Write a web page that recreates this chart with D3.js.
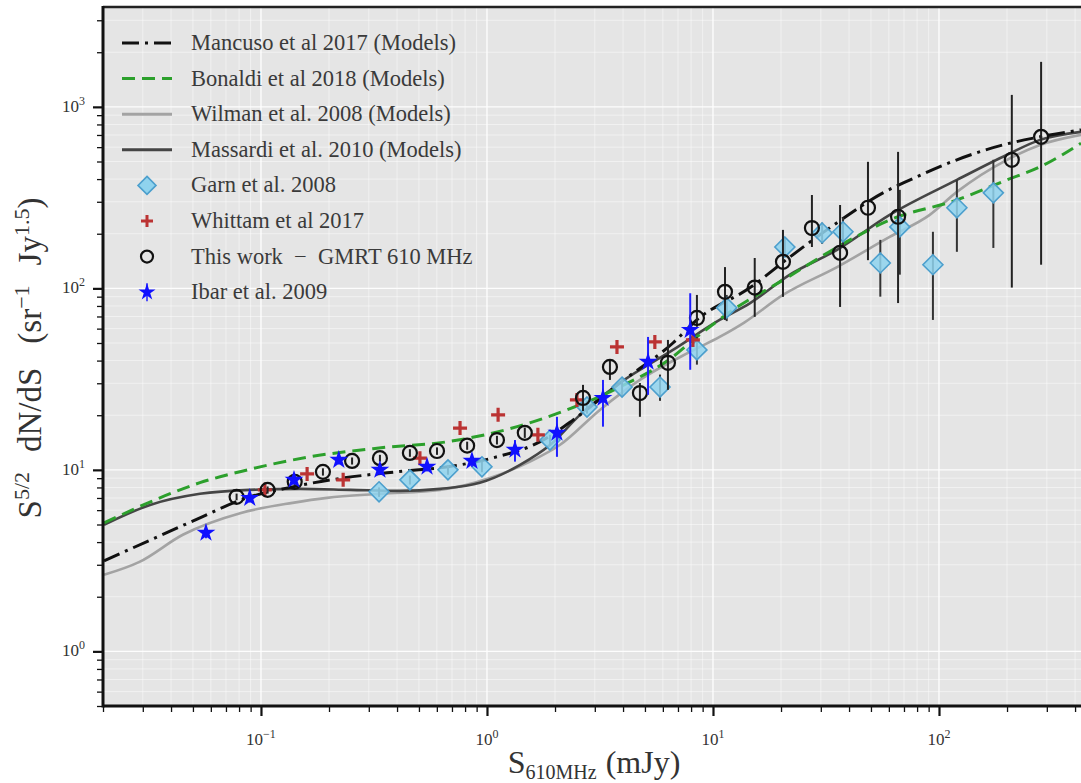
<!DOCTYPE html>
<html>
<head>
<meta charset="utf-8">
<script src="https://cdn.jsdelivr.net/npm/d3@7"></script>
<style>
  body { margin: 0; background: #fff; }
  svg { display: block; font-family: "Liberation Serif", "DejaVu Serif", serif; }
</style>
</head>
<body>
<svg id="chart" width="1081" height="783"></svg>
<script>
// ---- model curves (flux in mJy, S^5/2 dN/dS) ----
const mancusoS = [0.0202, 0.0323, 0.0537, 0.0816, 0.138, 0.233, 0.396, 0.672, 1.05, 1.72, 2.40, 3.87, 6.65, 8.48, 14.6, 21.9, 35.4, 56.5, 74.5, 120, 192, 280, 425];
const mancusoN = [3.15, 4.1, 5.44, 6.84, 8.06, 9.03, 9.75, 10.4, 11.6, 14.3, 18.8, 30.1, 50, 67, 101, 149, 230, 336, 396, 511, 617, 684, 747];

const bonaldiS = [0.0202, 0.0405, 0.0537, 0.0816, 0.1645, 0.333, 0.672, 1.36, 2.26, 3.87, 6.65, 8.48, 12.25, 20.4, 40.4, 60.5, 120, 200, 280, 425];
const bonaldiN = [5.1, 7.47, 8.5, 9.8, 11.8, 13.2, 14.3, 17.3, 21.4, 28.6, 42, 54, 76, 111, 185, 238, 307, 396, 467, 631];

const wilmanS = [0.0202, 0.029, 0.0451, 0.0816, 0.138, 0.196, 0.336, 0.62, 1.03, 1.55, 2.10, 3.16, 4.75, 7.92, 10.7, 13.8, 20.4, 35.4, 60.5, 91, 120, 200, 280, 425];
const wilmanN = [2.64, 3.11, 4.39, 5.79, 6.58, 7.01, 7.38, 7.76, 9.03, 11.1, 13.7, 21.4, 31.3, 44.7, 54, 65, 92, 131, 192, 254, 340, 511, 617, 701];

const massardiS = [0.0202, 0.0323, 0.0537, 0.0892, 0.149, 0.248, 0.412, 0.62, 0.93, 1.40, 1.90, 2.58, 3.87, 6.65, 10.7, 14.6, 21.9, 35.4, 60.5, 120, 200, 280, 425];
const massardiN = [4.98, 6.41, 7.38, 7.76, 7.86, 7.76, 7.66, 7.86, 8.48, 10.65, 13.7, 20.1, 30.1, 45.8, 67, 83, 119, 163, 254, 396, 545, 658, 728];

// ---- measured counts ----
const garnS = [0.333, 0.456, 0.672, 0.95, 1.90, 2.77, 3.96, 5.83, 8.49, 11.5, 20.8, 30.4, 37.6, 55, 67.1, 94, 120, 174];
const garnN = [7.57, 8.81, 10.0, 10.4, 14.6, 22.2, 28.6, 28.6, 45.8, 78.2, 169, 202, 205, 138, 218, 135, 278, 336];
const garnLo = [7.1, 8.3, 9.4, 9.7, 13.6, 20.4, 25.5, 24.0, 38.0, 66, 150, 176, 170, 90, 119, 67, 159, 167];
const garnHi = [8.0, 9.3, 10.6, 11.1, 15.6, 24.0, 32.0, 33.5, 54.0, 92, 190, 230, 245, 185, 349, 205, 396, 511];

const whittamS = [0.104, 0.16, 0.231, 0.505, 0.76, 1.12, 1.68, 2.50, 3.76, 5.53, 8.15];
const whittamN = [7.76, 9.5, 8.81, 11.6, 17.0, 20.1, 15.6, 24.3, 47.6, 50.7, 52];

const gmrtS = [0.078, 0.107, 0.141, 0.188, 0.253, 0.336, 0.456, 0.601, 0.817, 1.107, 1.47, 2.66, 3.50, 4.75, 6.32, 8.49, 11.3, 15.3, 20.4, 27.4, 36.5, 48.5, 65.9, 210, 283];
const gmrtN = [7.10, 7.76, 8.59, 9.75, 11.2, 11.6, 12.4, 12.7, 13.6, 14.6, 16.0, 24.9, 36.9, 26.5, 38.9, 68.7, 95.7, 101, 140, 215, 157, 278, 248, 511, 684];
const gmrtLo = [6.8, 7.4, 8.2, 9.3, 10.7, 11.1, 11.8, 12.1, 12.9, 13.8, 15.0, 21.1, 31.3, 19.6, 27.6, 61.4, 67, 69.7, 89.8, 169, 79, 143, 83, 101, 135];
const gmrtHi = [7.4, 8.1, 9.0, 10.2, 11.7, 12.1, 13.0, 13.3, 14.3, 15.4, 17.1, 29.4, 40.4, 30.1, 52, 92, 131, 147, 210, 327, 288, 498, 565, 1164, 1770];

const ibarS = [0.0571, 0.0892, 0.140, 0.221, 0.336, 0.543, 0.858, 1.33, 2.04, 3.26, 5.16, 7.93];
const ibarN = [4.5, 7.0, 8.81, 11.35, 10.0, 10.4, 11.2, 12.9, 16.0, 24.9, 39.4, 59];
const ibarLo = [4.2, 6.6, 8.3, 10.7, 9.4, 9.8, 10.4, 11.1, 11.8, 17.3, 25.9, 35.6];
const ibarHi = [4.8, 7.4, 9.3, 12.0, 10.6, 11.0, 12.0, 14.6, 19.6, 31.3, 54, 94];

// ---- axis ticks ----
const xMajor = [0.1, 1, 10, 100];
const xMajorExp = ['\u22121', '0', '1', '2'];
const yMajor = [1, 10, 100, 1000];
const yMajorExp = ['0', '1', '2', '3'];

const legendLabels = [
    'Mancuso et al 2017 (Models)',
    'Bonaldi et al 2018 (Models)',
    'Wilman et al. 2008 (Models)',
    'Massardi et al. 2010 (Models)',
    'Garn et al. 2008',
    'Whittam et al 2017',
    'This work  \u2212  GMRT 610 MHz',
    'Ibar et al. 2009'
];

const pLeft = 103, pRight = 1165, pTop = 7, pBottom = 706, svgW = 1081;
const svg = d3.select('#chart');

const x = d3.scaleLog().domain([0.02, 1000]).range([pLeft, pRight]);
const y = d3.scaleLog().domain([0.5, 3550]).range([pBottom, pTop]);

svg.append('defs').append('clipPath').attr('id', 'plot-clip')
    .append('rect').attr('x', pLeft).attr('y', pTop).attr('width', svgW - pLeft).attr('height', pBottom - pTop);

svg.append('rect')
    .attr('x', pLeft).attr('y', pTop)
    .attr('width', svgW - pLeft).attr('height', pBottom - pTop)
    .attr('fill', '#e5e5e5');

// grid
const grid = svg.append('g').attr('clip-path', 'url(#plot-clip)');
const isMajor = v => Math.abs(Math.log10(v) - Math.round(Math.log10(v))) < 1e-9;

grid.selectAll('line.gx').data(x.ticks()).enter().append('line')
    .attr('class', 'gx')
    .attr('x1', d => x(d)).attr('x2', d => x(d))
    .attr('y1', pTop).attr('y2', pBottom)
    .attr('stroke', '#fff')
    .attr('stroke-opacity', d => isMajor(d) ? 0.9 : 0.6)
    .attr('stroke-width', d => isMajor(d) ? 1.4 : 0.8);

grid.selectAll('line.gy').data(y.ticks()).enter().append('line')
    .attr('class', 'gy')
    .attr('y1', d => y(d)).attr('y2', d => y(d))
    .attr('x1', pLeft).attr('x2', svgW)
    .attr('stroke', '#fff')
    .attr('stroke-opacity', d => isMajor(d) ? 0.9 : 0.6)
    .attr('stroke-width', d => isMajor(d) ? 1.4 : 0.8);

// model lines
const plot = svg.append('g').attr('clip-path', 'url(#plot-clip)');
const line = d3.line().x(d => x(d[0])).y(d => y(d[1])).curve(d3.curveMonotoneX);

function drawModel(s, n, color, width, dash) {
    plot.append('path')
        .datum(d3.zip(s, n))
        .attr('d', line)
        .attr('fill', 'none')
        .attr('stroke', color)
        .attr('stroke-width', width)
        .attr('stroke-dasharray', dash);
}

drawModel(wilmanS, wilmanN, '#a3a3a3', 2.6, null);
drawModel(massardiS, massardiN, '#454545', 2.6, null);
drawModel(mancusoS, mancusoN, '#111', 3, '17,6,3,6');
drawModel(bonaldiS, bonaldiN, '#2ca02c', 3, '13,7');

// error bars
function drawErrors(s, lo, hi, color, width) {
    plot.append('g').selectAll('line').data(d3.range(s.length)).enter().append('line')
        .attr('x1', i => x(s[i])).attr('x2', i => x(s[i]))
        .attr('y1', i => y(lo[i])).attr('y2', i => y(hi[i]))
        .attr('stroke', color)
        .attr('stroke-width', width);
}

// Garn
drawErrors(garnS, garnLo, garnHi, '#333', 2);
plot.append('g').selectAll('path').data(d3.zip(garnS, garnN)).enter().append('path')
    .attr('transform', d => `translate(${x(d[0])},${y(d[1])})`)
    .attr('d', 'M0,-10L10,0L0,10L-10,0Z')
    .attr('fill', '#8fd3ee').attr('fill-opacity', 0.85)
    .attr('stroke', '#4c9fcd').attr('stroke-width', 1.6);

// Whittam
plot.append('g').selectAll('path').data(d3.zip(whittamS, whittamN)).enter().append('path')
    .attr('transform', d => `translate(${x(d[0])},${y(d[1])})`)
    .attr('d', 'M-7,0H7M0,-7V7')
    .attr('stroke', '#bb3333').attr('stroke-width', 3.2);

// This work
drawErrors(gmrtS, gmrtLo, gmrtHi, '#222', 2);
plot.append('g').selectAll('circle').data(d3.zip(gmrtS, gmrtN)).enter().append('circle')
    .attr('cx', d => x(d[0])).attr('cy', d => y(d[1]))
    .attr('r', 7)
    .attr('fill', 'none')
    .attr('stroke', '#111').attr('stroke-width', 2.2);

// Ibar
drawErrors(ibarS, ibarLo, ibarHi, '#1f1fff', 2);
plot.append('g').selectAll('path').data(d3.zip(ibarS, ibarN)).enter().append('path')
    .attr('transform', d => `translate(${x(d[0])},${y(d[1])})`)
    .attr('d', d3.symbol(d3.symbolStar, 110))
    .attr('fill', '#1010ff');

// axes
const axisStyle = g => {
    g.select('.domain').remove();
    g.selectAll('.tick line').attr('stroke', '#111');
};
const xMinor = x.ticks().filter(d => !isMajor(d) && x(d) < svgW);
const yMinor = y.ticks().filter(d => !isMajor(d));

svg.append('g').attr('transform', `translate(0,${pBottom})`)
    .call(d3.axisBottom(x).tickValues(xMinor).tickSize(6).tickFormat(''))
    .call(axisStyle)
    .selectAll('.tick line').attr('stroke-width', 1.3);
svg.append('g').attr('transform', `translate(0,${pBottom})`)
    .call(d3.axisBottom(x).tickValues(xMajor).tickSize(10).tickFormat(''))
    .call(axisStyle)
    .selectAll('.tick line').attr('stroke-width', 2.2);
svg.append('g').attr('transform', `translate(${pLeft},0)`)
    .call(d3.axisLeft(y).tickValues(yMinor).tickSize(6).tickFormat(''))
    .call(axisStyle)
    .selectAll('.tick line').attr('stroke-width', 1.3);
svg.append('g').attr('transform', `translate(${pLeft},0)`)
    .call(d3.axisLeft(y).tickValues(yMajor).tickSize(10).tickFormat(''))
    .call(axisStyle)
    .selectAll('.tick line').attr('stroke-width', 2.2);

// frame
svg.append('line').attr('x1', pLeft).attr('x2', svgW).attr('y1', pTop).attr('y2', pTop)
    .attr('stroke', '#222').attr('stroke-width', 2.5);
svg.append('line').attr('x1', pLeft).attr('x2', svgW).attr('y1', pBottom).attr('y2', pBottom)
    .attr('stroke', '#111').attr('stroke-width', 3);
svg.append('line').attr('x1', pLeft).attr('x2', pLeft).attr('y1', pTop - 1).attr('y2', pBottom + 1.5)
    .attr('stroke', '#111').attr('stroke-width', 3);

// tick labels
const xl = svg.append('g').selectAll('text').data(xMajor).enter().append('text')
    .attr('x', d => x(d)).attr('y', 745)
    .attr('text-anchor', 'middle')
    .attr('font-size', 17).attr('fill', '#333');
xl.append('tspan').text('10');
xl.append('tspan').attr('dy', -7).attr('font-size', 12).text((d, i) => xMajorExp[i]);

const yl = svg.append('g').selectAll('text').data(yMajor).enter().append('text')
    .attr('x', 85).attr('y', d => y(d) + 5)
    .attr('text-anchor', 'end')
    .attr('font-size', 17).attr('fill', '#333');
yl.append('tspan').text('10');
yl.append('tspan').attr('dy', -7).attr('font-size', 12).text((d, i) => yMajorExp[i]);

// axis titles
const xt = svg.append('text').attr('x', 594).attr('y', 773)
    .attr('text-anchor', 'middle').attr('font-size', 32).attr('fill', '#333');
xt.append('tspan').text('S');
xt.append('tspan').attr('dy', 6).attr('font-size', 20).text('610MHz');
xt.append('tspan').attr('dy', -6).attr('dx', 9).text('(mJy)');

const yt = svg.append('text').attr('transform', 'translate(41,358) rotate(-90)')
    .attr('text-anchor', 'middle').attr('font-size', 33).attr('fill', '#333');
yt.append('tspan').text('S');
yt.append('tspan').attr('dy', -12).attr('font-size', 22).text('5/2');
yt.append('tspan').attr('dy', 12).attr('dx', 20).text('dN/dS');
yt.append('tspan').attr('dx', 24).text('(sr');
yt.append('tspan').attr('dy', -12).attr('font-size', 22).text('\u22121');
yt.append('tspan').attr('dy', 12).attr('dx', 20).text('Jy');
yt.append('tspan').attr('dy', -12).attr('font-size', 22).text('1.5');
yt.append('tspan').attr('dy', 12).text(')');

// legend
const legend = svg.append('g');
const rowY = i => 43 + i * 35.6;
const lx0 = 122, lx1 = 172, mx = 147;

function legendLine(i, color, width, dash) {
    legend.append('line').attr('x1', lx0).attr('x2', lx1).attr('y1', rowY(i)).attr('y2', rowY(i))
        .attr('stroke', color).attr('stroke-width', width).attr('stroke-dasharray', dash);
}
legendLine(0, '#111', 3, '17,6,3,6');
legendLine(1, '#2ca02c', 3, '13,7');
legendLine(2, '#a3a3a3', 3, null);
legendLine(3, '#454545', 3, null);

legend.append('path').attr('transform', `translate(${mx},${rowY(4)})`)
    .attr('d', 'M0,-9L9,0L0,9L-9,0Z')
    .attr('fill', '#8fd3ee').attr('stroke', '#4c9fcd').attr('stroke-width', 1.6);
legend.append('path').attr('transform', `translate(${mx},${rowY(5)})`)
    .attr('d', 'M-6,0H6M0,-6V6')
    .attr('stroke', '#bb3333').attr('stroke-width', 3);
legend.append('circle').attr('cx', mx).attr('cy', rowY(6)).attr('r', 6)
    .attr('fill', 'none').attr('stroke', '#111').attr('stroke-width', 2.2);
legend.append('line').attr('x1', mx).attr('x2', mx).attr('y1', rowY(7) - 9).attr('y2', rowY(7) + 9)
    .attr('stroke', '#1f1fff').attr('stroke-width', 1.5);
legend.append('path').attr('transform', `translate(${mx},${rowY(7)})`)
    .attr('d', d3.symbol(d3.symbolStar, 90))
    .attr('fill', '#1010ff');

legend.selectAll('text').data(legendLabels).enter().append('text')
    .attr('x', 191).attr('y', (d, i) => rowY(i) + 7)
    .attr('font-size', 22.5).attr('fill', '#3a3a3a')
    .attr('xml:space', 'preserve')
    .text(d => d);
</script>
</body>
</html>
